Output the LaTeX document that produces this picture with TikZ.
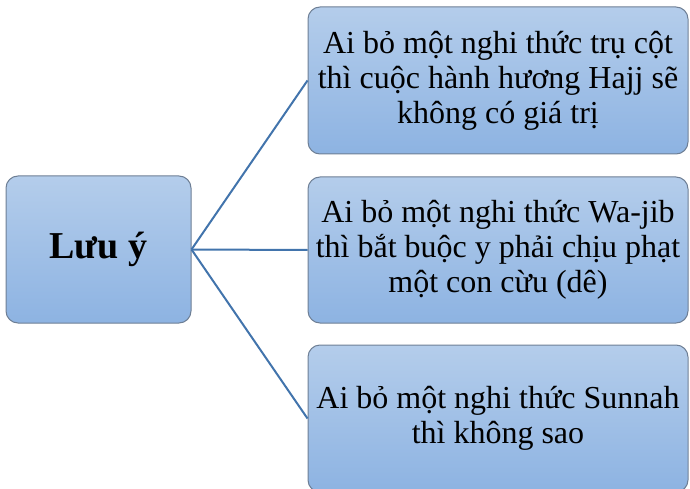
\documentclass[tikz,border=0pt]{standalone}
\usepackage{fontspec}
\setmainfont{Liberation Serif}
\definecolor{boxtop}{HTML}{B4CDEB}
\definecolor{boxbot}{HTML}{8DB3E2}
\definecolor{boxline}{HTML}{6E7F95}
\definecolor{conn}{HTML}{4274AC}
\begin{document}
\begin{tikzpicture}[x=1pt,y=-1pt,
  box/.style={draw=boxline, line width=1pt, rounded corners=12pt,
    top color=boxtop, bottom color=boxbot, align=center, inner sep=0pt,
    font=\fontsize{32}{35}\selectfont},
  link/.style={draw=conn, line width=2pt}]
\useasboundingbox (0,0) rectangle (690,489);
\clip (0,0) rectangle (690,489);
\node[box, minimum width=185pt, minimum height=147pt] (L) at (98.5,249.5) {\fontsize{38}{40}\selectfont\textbf{Lưu ý}};
\node[box, minimum width=380pt, minimum height=147pt] (T) at (498,80.5) {Ai bỏ một nghi thức trụ cột\\thì cuộc hành hương Hajj sẽ\\không có giá trị};
\node[box, minimum width=380pt, minimum height=146pt] (M) at (498,250) {Ai bỏ một nghi thức Wa-jib\\thì bắt buộc y phải chịu phạt\\một con cừu (dê)};
\node[box, minimum width=380pt, minimum height=147pt] (B) at (498,418.5) {Ai bỏ một nghi thức Sunnah\\thì không sao};
\draw[link] (L.east) -- (T.west);
\draw[link] (L.east) -- (M.west);
\draw[link] (L.east) -- (B.west);
\end{tikzpicture}
\end{document}
